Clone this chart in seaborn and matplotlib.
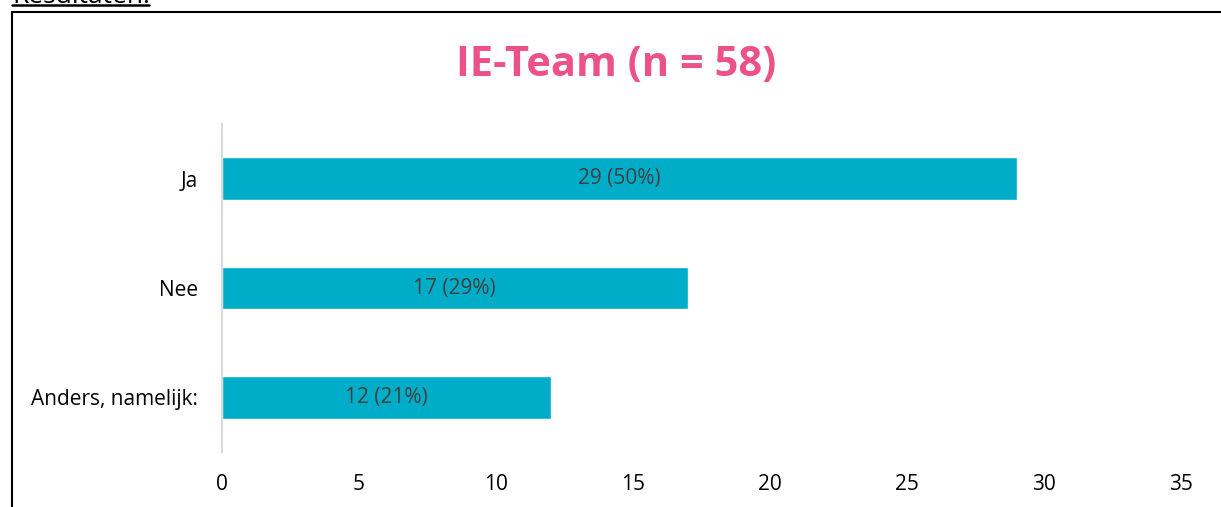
import pandas as pd
import matplotlib
matplotlib.use("Agg")
import matplotlib.pyplot as plt
import seaborn as sns
from matplotlib.patches import Rectangle
from matplotlib.lines import Line2D

# data
answers = ["Ja", "Nee", "Anders, namelijk:"]
counts = [29, 17, 12]
percents = [50, 29, 21]
n_total = 58

df = pd.DataFrame({"answer": answers, "count": counts})

sns.set_style("white")
plt.rcParams['font.family'] = ['Open Sans', 'DejaVu Sans']

fig = plt.figure(figsize=(12.21, 5.07), dpi=100)
ax = fig.add_axes([0.1818, 0.1085, 0.7854, 0.6469])

sns.barplot(data=df, x="count", y="answer", orient="h", color="#00ADC9",
            width=0.39, saturation=1, ax=ax)

bar_text = ["{} ({}%)".format(c, p) for c, p in zip(counts, percents)]
ax.bar_label(ax.containers[0], labels=bar_text, label_type="center",
             fontsize=15, color="#404040")

ax.set_xlim(0, 35)
ax.set_ylim(2.5, -0.5)
ax.set_xticks(range(0, 36, 5))
ax.set_xlabel("")
ax.set_ylabel("")
ax.tick_params(axis="x", length=0, pad=16, labelsize=15, colors="black")
ax.tick_params(axis="y", length=0, pad=17, labelsize=15, colors="black")
for s in ["top", "right", "bottom"]:
    ax.spines[s].set_visible(False)
ax.spines["left"].set_color("#D9D9D9")
ax.spines["left"].set_linewidth(1.5)

fig.text(0.505, 1 - 65 / 507, "IE-Team (n = {})".format(n_total), ha="center", va="center",
         fontsize=30, fontweight="bold", color="#EC5288")

# surrounding box and cut-off heading
fig.patches.append(Rectangle((12 / 1221, -0.1), 1.2, 1 - 12 / 507 + 0.1,
                             transform=fig.transFigure, fill=False,
                             edgecolor="black", linewidth=1.5))
fig.text(12 / 1221, 1 - 3 / 507, "Resultaten:", ha="left", va="baseline",
         fontsize=19, color="black")
fig.lines.append(Line2D([12 / 1221, 149 / 1221], [1 - 5 / 507, 1 - 5 / 507],
                        transform=fig.transFigure, color="black", linewidth=1.8))

fig.savefig("out.png", dpi=100)
